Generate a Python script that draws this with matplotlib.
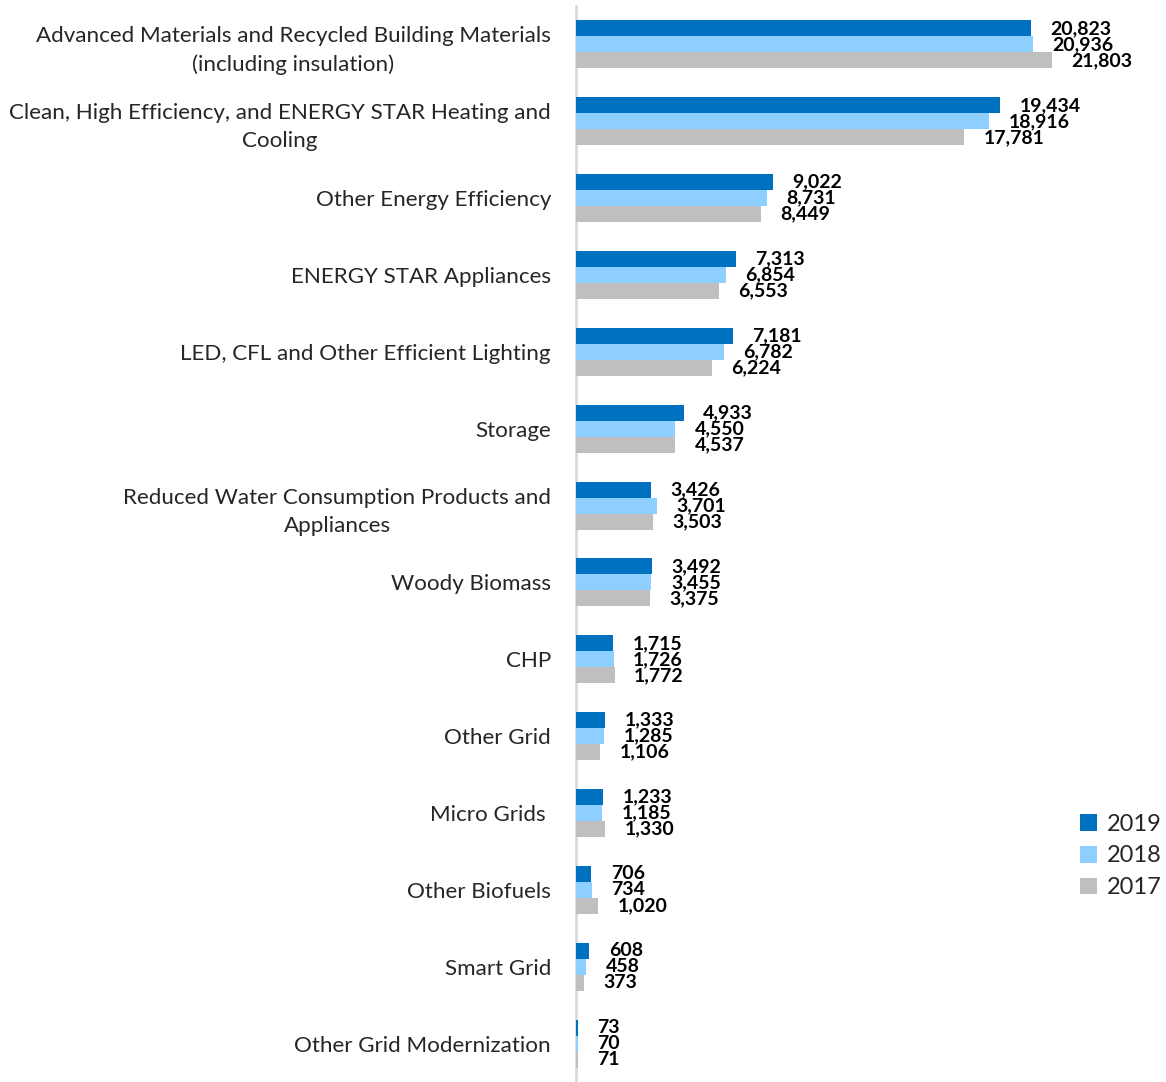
import matplotlib.pyplot as plt
import numpy as np

plt.rcParams['font.family'] = ['Lato', 'DejaVu Sans']

categories = [
    'Advanced Materials and Recycled Building Materials\n(including insulation)',
    'Clean, High Efficiency, and ENERGY STAR Heating and\nCooling',
    'Other Energy Efficiency',
    'ENERGY STAR Appliances',
    'LED, CFL and Other Efficient Lighting',
    'Storage',
    'Reduced Water Consumption Products and\nAppliances',
    'Woody Biomass',
    'CHP',
    'Other Grid',
    'Micro Grids ',
    'Other Biofuels',
    'Smart Grid',
    'Other Grid Modernization',
]
years = ['2019', '2018', '2017']
jobs_2019 = [20823, 19434, 9022, 7313, 7181, 4933, 3426, 3492, 1715, 1333, 1233, 706, 608, 73]
jobs_2018 = [20936, 18916, 8731, 6854, 6782, 4550, 3701, 3455, 1726, 1285, 1185, 734, 458, 70]
jobs_2017 = [21803, 17781, 8449, 6553, 6224, 4537, 3503, 3375, 1772, 1106, 1330, 1020, 373, 71]
colors = ['#0070C0', '#8DCFFE', '#BFBFBF']

fig = plt.figure(figsize=(11.66, 10.82), dpi=100)
ax = fig.add_axes([576 / 1166, 0.0, 546 / 1166, 1076 / 1082])

y = np.arange(len(categories))
h = 0.208
for i, (vals, year, c) in enumerate(zip([jobs_2019, jobs_2018, jobs_2017], years, colors)):
    pos = y + (i - 1) * h
    ax.barh(pos, vals, height=h, color=c, label=year, zorder=3)
    for p, v in zip(pos, vals):
        ax.annotate(f'{v:,}', (v, p), xytext=(14, 0), textcoords='offset points',
                    va='center', ha='left', fontsize=14, fontweight='bold', color='black')

ax.set_xlim(0, 25000)
ax.set_ylim(len(categories) - 0.5, -0.5)
ax.set_yticks(y)
ax.set_yticklabels(categories, fontsize=16.1, color='#262626', linespacing=1.5)
for t in ax.get_yticklabels():
    t.set_multialignment('center')
ax.tick_params(axis='y', length=0, pad=18)
ax.set_xticks([])
for s in ['top', 'right', 'bottom']:
    ax.spines[s].set_visible(False)
ax.spines['left'].set_color('#D9D9D9')
ax.spines['left'].set_linewidth(2)
ax.spines['left'].set_zorder(1)

leg = ax.legend(loc='center left', bbox_to_anchor=(1080 / 1166, 1 - 856 / 1082),
                bbox_transform=fig.transFigure, frameon=False, borderaxespad=0, borderpad=0,
                fontsize=17, handlelength=0.7, handleheight=0.7, handletextpad=0.45,
                labelspacing=0.45)
for t in leg.get_texts():
    t.set_color('#262626')

fig.savefig('out.png', dpi=100)
